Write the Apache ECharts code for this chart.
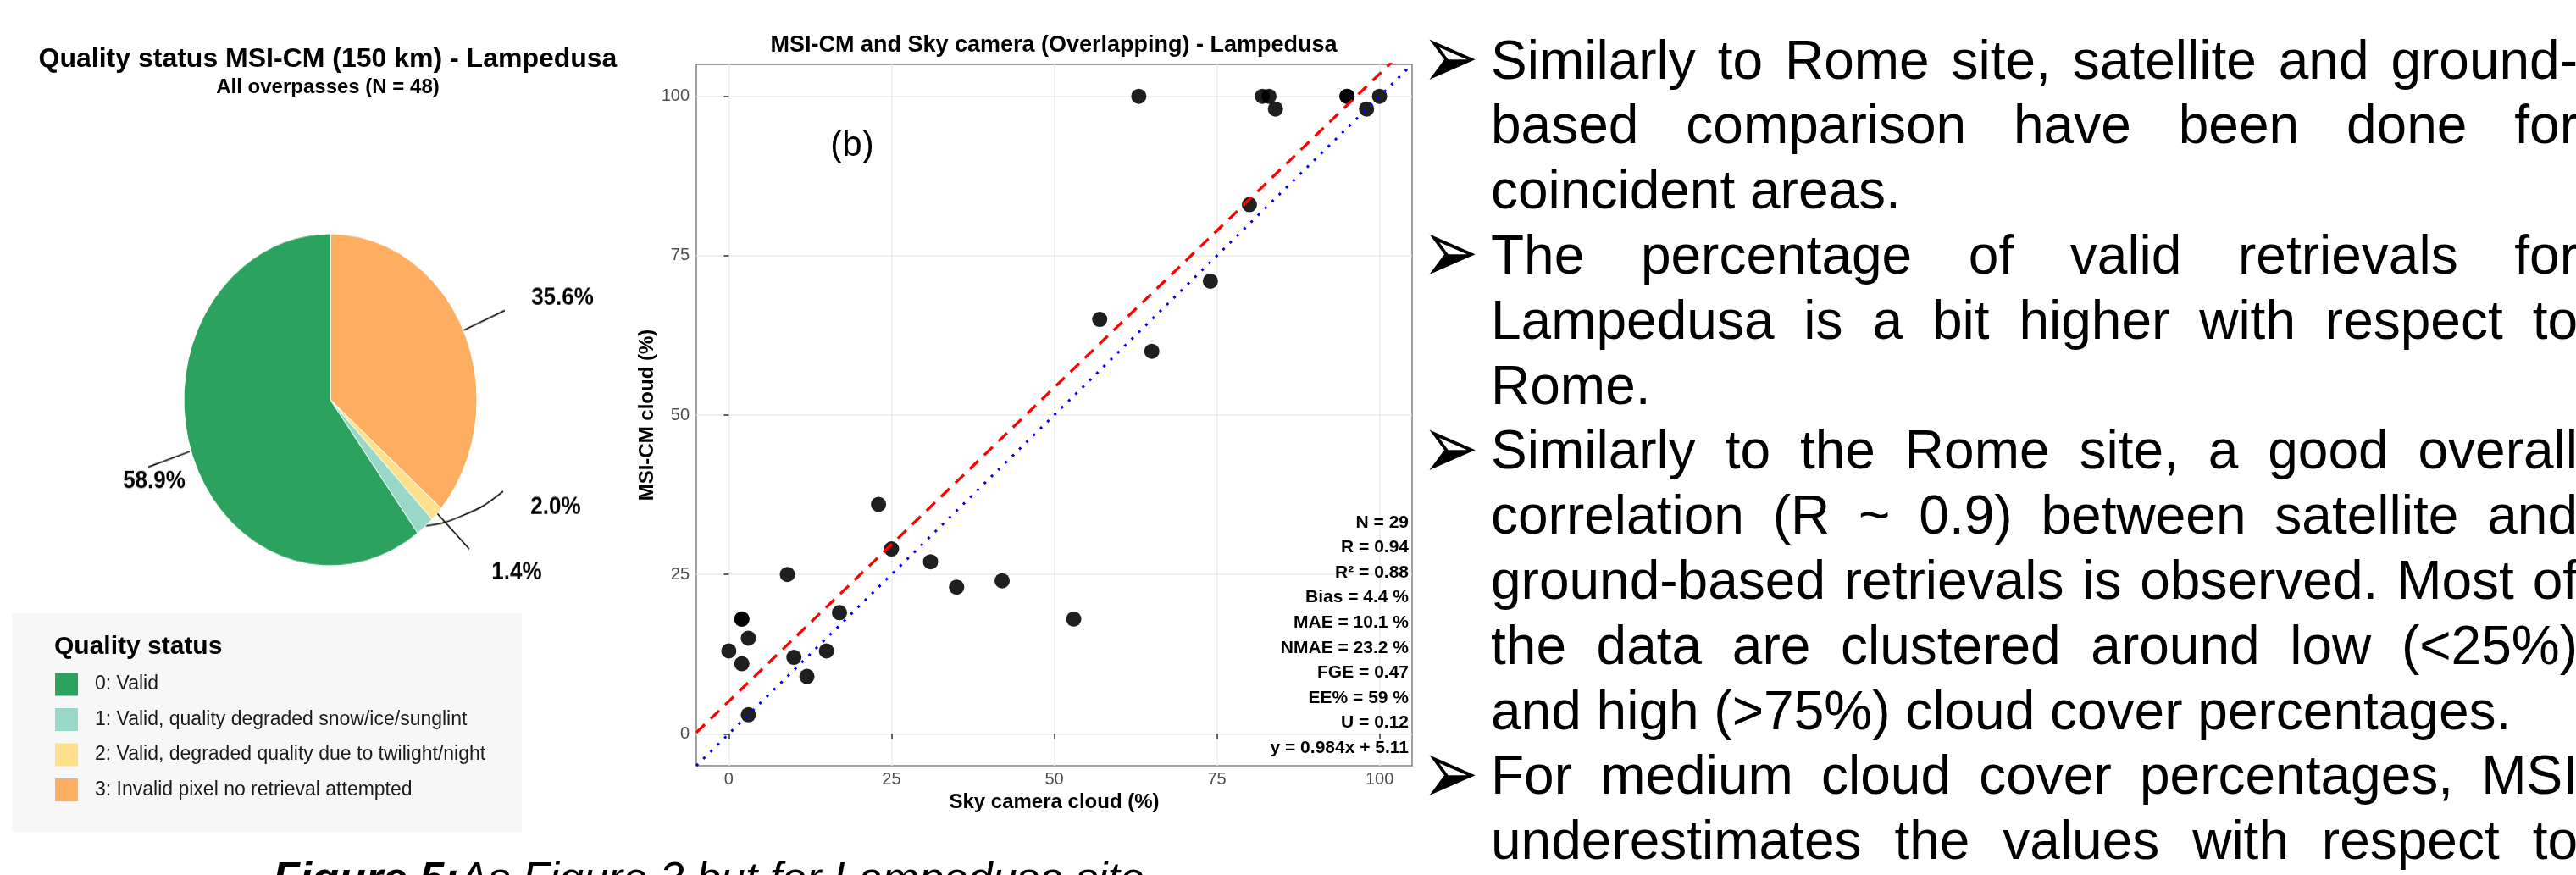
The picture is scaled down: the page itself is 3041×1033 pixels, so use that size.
<!DOCTYPE html>
<html>
<head>
<meta charset="utf-8">
<script src="https://cdn.jsdelivr.net/npm/echarts@6/dist/echarts.min.js"></script>
<style>
html,body{margin:0;padding:0;background:#fff;}
#main{position:absolute;left:0;top:0;width:3041px;height:1033px;}
#pie{position:absolute;left:0;top:0;width:760px;height:1033px;transform-origin:390px 472px;transform:scaleY(1.133);}
</style>
</head>
<body>
<div id="main"></div>
<div id="pie"></div>
<script>
// ---------------- DATA ----------------
const qualityCategories = [
  '0: Valid',
  '1: Valid, quality degraded snow/ice/sunglint',
  '2: Valid, degraded quality due to twilight/night',
  '3: Invalid pixel no retrieval attempted'
];
const qualityShares = [58.9, 2.0, 1.4, 35.6];
const qualityColors = ['#2ca25f', '#99d8c9', '#fee08b', '#fdae61'];

const skyCamera = [63, 82, 83, 84, 95, 95, 98, 100, 80, 74, 57, 65, 53, 23, 25, 31, 35, 42, 9, 2, 2, 3, 0, 2, 10, 12, 15, 17, 3];
const msiCm     = [100, 100, 100, 98, 100, 100, 98, 100, 83, 71, 65, 60, 18, 36, 29, 27, 23, 24, 25, 18, 18, 15, 13, 11, 12, 9, 13, 19, 3];

const axisTickValues = [0, 25, 50, 75, 100];
const fitLine = [[-5, 0.19], [105, 108.43]];      // y = 0.984x + 5.11
const identityLine = [[-5, -5], [105, 105]];      // 1:1 line

const statsLines = ['N = 29', 'R = 0.94', 'R\u00B2 = 0.88', 'Bias = 4.4 %', 'MAE = 10.1 %',
  'NMAE = 23.2 %', 'FGE = 0.47', 'EE% = 59 %', 'U = 0.12', 'y = 0.984x + 5.11'];

const bodyLines = [
  {t: 'Similarly to Rome site, satellite and ground-', j: true, b: true},
  {t: 'based comparison have been done for', j: true},
  {t: 'coincident areas.', j: false},
  {t: 'The percentage of valid retrievals for', j: true, b: true},
  {t: 'Lampedusa is a bit higher with respect to', j: true},
  {t: 'Rome.', j: false},
  {t: 'Similarly to the Rome site, a good overall', j: true, b: true},
  {t: 'correlation (R ~ 0.9) between satellite and', j: true},
  {t: 'ground-based retrievals is observed. Most of', j: true},
  {t: 'the data are clustered around low (<25%)', j: true},
  {t: 'and high (>75%) cloud cover percentages.', j: false},
  {t: 'For medium cloud cover percentages, MSI', j: true, b: true},
  {t: 'underestimates the values with respect to', j: true}
];

// ---------------- LAYOUT HELPERS ----------------
const FONT = 'Liberation Sans';
const PIE_CX = 390, PIE_CY = 472, STRETCH = 1.133;
const fy = Y => PIE_CY + (Y - PIE_CY) / STRETCH;

// label placement (final page coords) for each quality class index
const pieLabelPlacement = {
  3: {lab: [664, 352], line: [[547, 390], [595, 367], [596, 367]], smooth: false},
  2: {lab: [610, 676], line: [[516, 606], [553, 647], [554, 648]], smooth: false},
  1: {lab: [656, 599], line: [[501, 621], [550, 614], [594, 580]], smooth: 0.5},
  0: {lab: [182, 568], line: [[224, 533], [176, 551], [175, 551]], smooth: false}
};

// ---------------- PIE CHART ----------------
const pieData = [3, 2, 1, 0].map(i => ({
  name: qualityCategories[i],
  value: qualityShares[i],
  qi: i,
  itemStyle: {color: qualityColors[i]},
  labelLine: {smooth: pieLabelPlacement[i].smooth}
}));

const pieChart = echarts.init(document.getElementById('pie'), null, {width: 760, height: 1033});
pieChart.setOption({
  backgroundColor: 'transparent',
  animation: false,
  series: [{
    type: 'pie',
    center: [PIE_CX, PIE_CY],
    radius: 173,
    startAngle: 90,
    clockwise: true,
    avoidLabelOverlap: false,
    silent: true,
    data: pieData,
    itemStyle: {borderColor: '#ffffff', borderWidth: 1},
    label: {
      show: true,
      position: 'outside',
      formatter: p => p.value.toFixed(1) + '%',
      fontSize: 26, fontWeight: 'bold', color: '#000', fontFamily: FONT
    },
    labelLine: {show: true, length: 20, length2: 20, lineStyle: {color: '#000', width: 1.5}},
    labelLayout: function (params) {
      const qi = pieData[params.dataIndex].qi;
      const pl = pieLabelPlacement[qi];
      return {
        x: pl.lab[0], y: fy(pl.lab[1]),
        align: 'center', verticalAlign: 'middle',
        labelLinePoints: pl.line.map(p => [p[0], fy(p[1])])
      };
    }
  }]
});

// ---------------- MAIN CHART ----------------
const graphics = [];
function txt(text, x, y, o, extra) {
  graphics.push(Object.assign({
    type: 'text', x: x, y: y, z: 100, silent: true,
    style: Object.assign({text: text, fill: '#000', fontFamily: FONT, fontSize: 20,
      align: 'left', verticalAlign: 'middle'}, o || {})
  }, extra || {}));
}

// pie titles
txt('Quality status MSI-CM (150 km) - Lampedusa', 387, 70, {fontSize: 32, fontWeight: 'bold', align: 'center'});
txt('All overpasses (N = 48)', 387, 103, {fontSize: 24, fontWeight: 'bold', align: 'center'});

// legend box
graphics.push({type: 'rect', z: 90, silent: true, shape: {x: 14, y: 724, width: 602, height: 258},
  style: {fill: '#f7f7f7'}});
txt('Quality status', 64, 764, {fontSize: 30, fontWeight: 'bold'});
qualityCategories.forEach((c, i) => {
  const yc = 808 + 41.5 * i;
  graphics.push({type: 'rect', z: 100, silent: true, shape: {x: 65, y: yc - 13.5, width: 27, height: 27},
    style: {fill: qualityColors[i]}});
  txt(c, 112, yc, {fontSize: 23, fill: '#1a1a1a'});
});

// scatter titles / annotations
txt('MSI-CM and Sky camera (Overlapping) - Lampedusa', 1244, 54, {fontSize: 27, fontWeight: 'bold', align: 'center'});
txt('(b)', 1006, 172, {fontSize: 42, align: 'center'});
statsLines.forEach((s, i) => {
  txt(s, 1663, 617 + 29.56 * i, {fontSize: 21, fontWeight: 'bold', align: 'right'});
});

// caption
const mctx = document.createElement('canvas').getContext('2d');
mctx.font = 'italic bold 52px "Liberation Sans"';
const capW = mctx.measureText('Figure 5:').width;
txt('Figure 5:', 322, 1040, {fontSize: 52, fontWeight: 'bold', fontStyle: 'italic'});
txt('As Figure 3 but for Lampedusa site', 322 + capW, 1040, {fontSize: 52, fontStyle: 'italic'});

// right-hand justified text
const LEFT = 1760, RIGHT = 3043;
mctx.font = '64px "Liberation Sans"';
bodyLines.forEach((ln, i) => {
  const y = 75 + 76.8 * i;
  if (ln.b) txt('\u27A2', 1712, y + 1, {fontSize: 80, fontFamily: 'DejaVu Sans', align: 'center'}, {scaleY: 1.35});
  if (ln.j) {
    const words = ln.t.split(' ');
    const widths = words.map(w => mctx.measureText(w).width);
    const total = widths.reduce((a, b) => a + b, 0);
    const gap = (RIGHT - LEFT - total) / (words.length - 1);
    let x = LEFT;
    words.forEach((w, k) => { txt(w, x, y, {fontSize: 64}); x += widths[k] + gap; });
  } else {
    txt(ln.t, LEFT, y, {fontSize: 64});
  }
});

const mainChart = echarts.init(document.getElementById('main'), null, {width: 3041, height: 1033});
mainChart.setOption({
  backgroundColor: '#ffffff',
  animation: false,
  textStyle: {fontFamily: FONT},
  grid: {left: 822, top: 76, width: 845, height: 828, show: true, borderColor: '#808080', borderWidth: 1.5,
    backgroundColor: 'transparent', containLabel: false},
  xAxis: {
    type: 'value', min: -5, max: 105,
    name: 'Sky camera cloud (%)', nameLocation: 'middle', nameGap: 26,
    nameTextStyle: {fontSize: 24, fontWeight: 'bold', color: '#000', fontFamily: FONT},
    axisLine: {show: false},
    axisTick: {show: true, length: 6, customValues: axisTickValues, lineStyle: {color: '#333', width: 1.5}},
    axisLabel: {customValues: axisTickValues, color: '#4d4d4d', fontSize: 20, margin: 6, fontFamily: FONT},
    splitLine: {show: true, lineStyle: {color: '#ebebeb', width: 1.5}}
  },
  yAxis: {
    type: 'value', min: -5, max: 105,
    name: 'MSI-CM cloud (%)', nameLocation: 'middle', nameGap: 42,
    nameTextStyle: {fontSize: 24, fontWeight: 'bold', color: '#000', fontFamily: FONT},
    axisLine: {show: false},
    axisTick: {show: true, length: 6, customValues: axisTickValues, lineStyle: {color: '#333', width: 1.5}},
    axisLabel: {customValues: axisTickValues, color: '#4d4d4d', fontSize: 20, margin: 8, fontFamily: FONT},
    splitLine: {show: true, lineStyle: {color: '#ebebeb', width: 1.5}}
  },
  series: [
    {
      type: 'scatter', z: 2, silent: true,
      data: skyCamera.map((x, i) => [x, msiCm[i]]),
      symbolSize: 18,
      itemStyle: {color: '#000', opacity: 0.88}
    },
    {
      type: 'line', z: 3, silent: true, clip: true, symbol: 'none',
      data: identityLine,
      lineStyle: {color: '#0000ff', width: 3, type: [3, 8.6]}
    },
    {
      type: 'line', z: 3, silent: true, clip: true, symbol: 'none',
      data: fitLine,
      lineStyle: {color: '#ff0000', width: 3.3, type: [14, 9.6]}
    }
  ],
  graphic: graphics
});
</script>
</body>
</html>
